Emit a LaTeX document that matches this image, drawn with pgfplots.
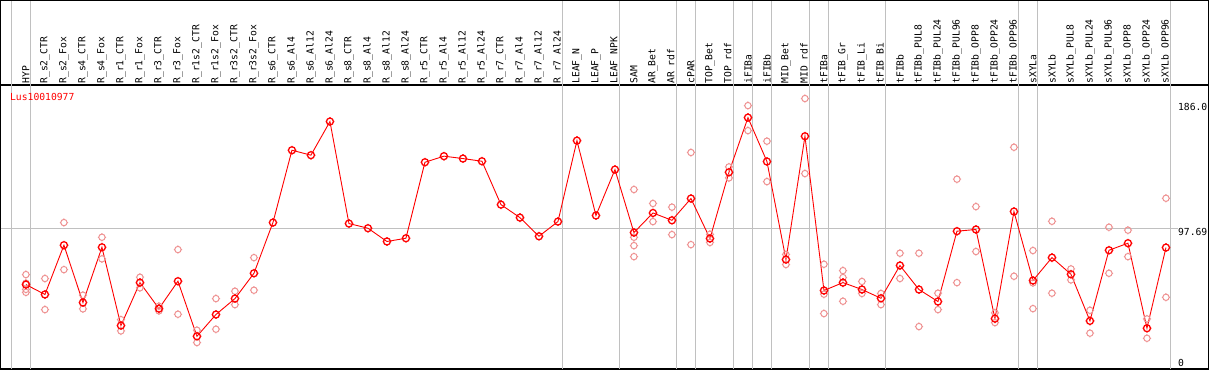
\documentclass[border=0pt]{standalone}
\usepackage{pgfplots}
\pgfplotsset{compat=1.18}
\usepackage{fontspec}
\newfontfamily\labfont{DejaVu Sans Mono}
\newcommand\lab{\labfont\fontsize{9.7}{10}\selectfont}
\definecolor{sepgray}{RGB}{192,192,192}
\definecolor{mainred}{RGB}{255,0,0}
\definecolor{lightred}{RGB}{238,145,145}
\pgfdeclareplotmark{ncirc}{%
  \pgfpathcircle{\pgfpointorigin}{\pgfplotmarksize}%
  \pgfpathmoveto{\pgfpoint{0pt}{\pgfplotmarksize}}\pgfpathlineto{\pgfpoint{0pt}{\pgfplotmarksize+0.9pt}}%
  \pgfpathmoveto{\pgfpoint{0pt}{-\pgfplotmarksize}}\pgfpathlineto{\pgfpoint{0pt}{-\pgfplotmarksize-0.9pt}}%
  \pgfpathmoveto{\pgfpoint{\pgfplotmarksize}{0pt}}\pgfpathlineto{\pgfpoint{\pgfplotmarksize+0.9pt}{0pt}}%
  \pgfpathmoveto{\pgfpoint{-\pgfplotmarksize}{0pt}}\pgfpathlineto{\pgfpoint{-\pgfplotmarksize-0.9pt}{0pt}}%
  \pgfusepathqstroke}

\pgfplotstableread{
x y
0 57.8
1 50.8
2 85.7
3 45.1
4 84.2
5 28.8
6 59.2
7 40.8
8 60.2
9 21.2
10 36.6
11 47.9
12 65.8
13 101.7
14 152.9
15 149.4
16 173.2
17 101.0
18 97.7
19 88.3
20 90.6
21 144.4
22 148.7
23 147.0
24 145.1
25 114.4
26 105.2
27 92.0
28 102.4
29 159.7
30 106.7
31 139.2
32 94.6
33 108.5
34 103.3
35 118.7
36 90.4
37 137.3
38 176.0
39 144.9
40 75.5
41 162.8
42 53.6
43 59.2
44 54.3
45 48.1
46 71.3
47 54.3
48 45.8
49 95.6
50 96.8
51 33.7
52 109.5
53 60.7
54 76.9
55 65.1
56 32.1
57 82.1
58 87.1
59 26.9
60 84.0
}\means

\pgfplotstableread{
x y
0 64.9
0 58.8
0 54.4
0 52.3
1 62.1
1 40.1
2 101.7
2 68.4
3 50.3
3 40.6
4 91.3
4 76.0
5 33.0
5 25.0
6 63.0
6 55.5
7 42.5
7 39.2
8 82.6
8 36.8
9 25.5
9 16.8
10 47.9
10 26.2
11 53.1
11 43.6
12 76.9
12 53.8
32 125.1
32 91.3
32 85.4
32 77.6
33 115.2
33 102.4
34 112.6
34 93.2
35 151.3
35 86.1
36 93.4
36 87.6
37 141.1
37 133.3
38 184.5
38 166.8
39 159.3
39 130.7
40 79.1
40 72.0
41 189.5
41 136.4
42 72.2
42 51.0
42 37.3
43 67.7
43 62.8
43 46.0
44 60.0
44 51.5
45 51.5
45 43.6
46 80.0
46 62.1
47 80.0
47 28.1
48 51.7
48 40.1
49 132.4
49 59.2
50 113.0
50 81.2
51 37.8
51 30.9
52 155.0
52 63.7
53 81.9
53 59.0
53 40.8
54 102.6
54 51.7
55 68.9
55 61.1
56 39.6
56 23.4
57 98.4
57 65.8
58 96.3
58 77.6
59 33.5
59 19.8
60 118.9
60 48.8
}\reps

\begin{document}
\begin{tikzpicture}
\begin{axis}[
  scale only axis,
  width=1207.5pt, height=284pt,
  xmin=-1.326, xmax=62.226,
  ymin=-2.12, ymax=198.9,
  axis line style={line width=1.5pt, black},
  clip=false,
  xtick={0,...,60},
  xticklabel pos=upper,
  major tick length=0pt,
  ytick=\empty,
  xticklabel style={rotate=90, anchor=west, inner sep=1.5pt, font=\lab, text=black},
  xticklabels={HYP,R\_s2\_CTR,R\_s2\_Fox,R\_s4\_CTR,R\_s4\_Fox,R\_r1\_CTR,R\_r1\_Fox,R\_r3\_CTR,R\_r3\_Fox,R\_r1s2\_CTR,R\_r1s2\_Fox,R\_r3s2\_CTR,R\_r3s2\_Fox,R\_s6\_CTR,R\_s6\_Al4,R\_s6\_Al12,R\_s6\_Al24,R\_s8\_CTR,R\_s8\_Al4,R\_s8\_Al12,R\_s8\_Al24,R\_r5\_CTR,R\_r5\_Al4,R\_r5\_Al12,R\_r5\_Al24,R\_r7\_CTR,R\_r7\_Al4,R\_r7\_Al12,R\_r7\_Al24,LEAF\_N,LEAF\_P,LEAF\_NPK,SAM,AR\_Bet,AR\_rdf,cPAR,TOP\_Bet,TOP\_rdf,iFIBa,iFIBb,MID\_Bet,MID\_rdf,tFIBa,tFIB\_Gr,tFIB\_Li,tFIB\_Bi,tFIBb,tFIBb\_PUL8,tFIBb\_PUL24,tFIBb\_PUL96,tFIBb\_OPP8,tFIBb\_OPP24,tFIBb\_OPP96,sXYLa,sXYLb,sXYLb\_PUL8,sXYLb\_PUL24,sXYLb\_PUL96,sXYLb\_OPP8,sXYLb\_OPP24,sXYLb\_OPP96},
]
% separators
\pgfplotsinvokeforeach{-0.75,0.25,28.25,31.25,34.25,35.25,37.25,38.25,39.25,41.25,42.25,45.25,52.25,53.25,60.25}{
  \draw[sepgray, line width=1pt] ({axis cs:#1,0} |- {rel axis cs:0,0}) -- ({axis cs:#1,0} |- {rel axis cs:0,1.2975});
}
\draw[sepgray, line width=1pt] ({rel axis cs:0,0} |- {axis cs:0,97.69}) -- (axis cs:60.63,97.69);
% header frame
\draw[black, line width=1.5pt] (rel axis cs:0,1) -- (rel axis cs:0,1.2975) -- (rel axis cs:1,1.2975) -- (rel axis cs:1,1);

\addplot[only marks, mark=ncirc, mark size=3.2pt, lightred, mark options={line width=1pt}] table[x=x,y=y] {\reps};
\addplot[mainred, line width=0.9pt, mark=ncirc, mark size=3.5pt, mark options={line width=1.3pt}] table[x=x,y=y] {\means};

\node[anchor=base west, inner sep=0pt, text=mainred, font=\lab] at (axis cs:-0.842,187.8) {Lus10010977};
\node[anchor=north west, inner sep=0pt, font=\lab] at (axis cs:60.63,186) {186.0};
\node[anchor=north west, inner sep=0pt, font=\lab] at (axis cs:60.63,97.69) {97.69};
\node[anchor=base west, inner sep=0pt, font=\lab] at (axis cs:60.63,0) {0};
\end{axis}
\end{tikzpicture}
\end{document}
